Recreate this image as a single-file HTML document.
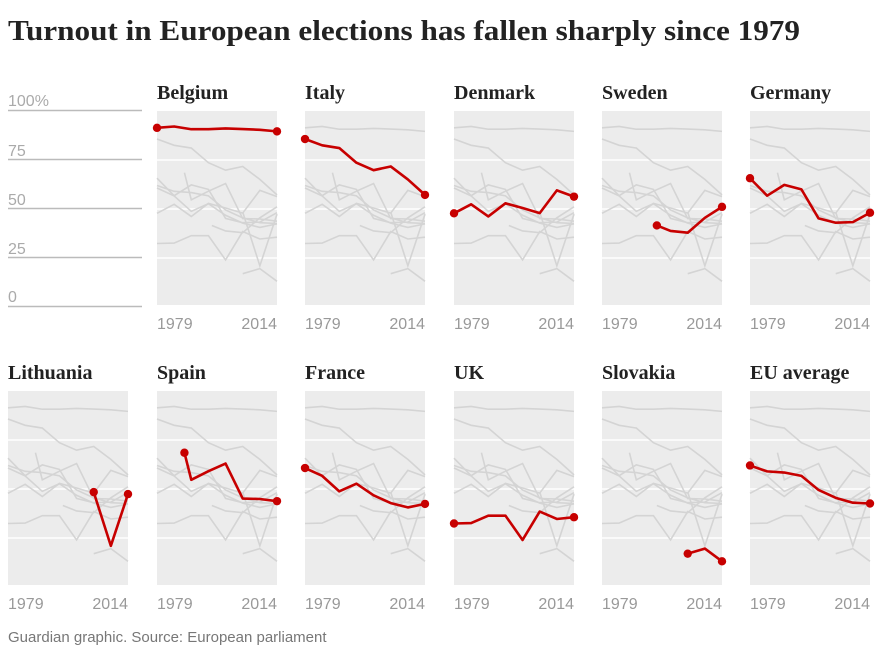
<!DOCTYPE html>
<html><head><meta charset="utf-8"><style>
body{margin:0;background:#fff;width:880px;height:652px;overflow:hidden}
svg{position:absolute;left:0;top:0}
.t{font-family:"Liberation Serif",serif;font-weight:bold;fill:#222}
.s{font-family:"Liberation Sans",sans-serif;fill:#999;font-size:16px}
</style></head><body>
<svg id="c" width="880" height="652" xmlns="http://www.w3.org/2000/svg">
<text x="8" y="40" class="t" font-size="29" textLength="792" lengthAdjust="spacingAndGlyphs">Turnout in European elections has fallen sharply since 1979</text>
<g class="s" style="fill:#aaa">
<text x="8" y="106">100%</text><text x="8" y="156">75</text><text x="8" y="205">50</text><text x="8" y="254">25</text><text x="8" y="302">0</text>
</g>
<g stroke="#bbb" stroke-width="1.5">
<line x1="8" x2="142" y1="110.5" y2="110.5"/><line x1="8" x2="142" y1="159.5" y2="159.5"/><line x1="8" x2="142" y1="208.5" y2="208.5"/><line x1="8" x2="142" y1="257.5" y2="257.5"/><line x1="8" x2="142" y1="306.5" y2="306.5"/>
</g>
<g class="t" font-size="20">
<text x="157" y="99">Belgium</text><text x="305" y="99">Italy</text><text x="454" y="99">Denmark</text><text x="602" y="99">Sweden</text><text x="750" y="99">Germany</text>
<text x="8" y="379">Lithuania</text><text x="157" y="379">Spain</text><text x="305" y="379">France</text><text x="454" y="379">UK</text><text x="602" y="379">Slovakia</text><text x="750" y="379">EU average</text>
</g>
<g class="s">
<text x="157" y="329">1979</text><text x="277" y="329" text-anchor="end">2014</text>
<text x="305" y="329">1979</text><text x="425" y="329" text-anchor="end">2014</text>
<text x="454" y="329">1979</text><text x="574" y="329" text-anchor="end">2014</text>
<text x="602" y="329">1979</text><text x="722" y="329" text-anchor="end">2014</text>
<text x="750" y="329">1979</text><text x="870" y="329" text-anchor="end">2014</text>
<text x="8" y="609">1979</text><text x="128" y="609" text-anchor="end">2014</text>
<text x="157" y="609">1979</text><text x="277" y="609" text-anchor="end">2014</text>
<text x="305" y="609">1979</text><text x="425" y="609" text-anchor="end">2014</text>
<text x="454" y="609">1979</text><text x="574" y="609" text-anchor="end">2014</text>
<text x="602" y="609">1979</text><text x="722" y="609" text-anchor="end">2014</text>
<text x="750" y="609">1979</text><text x="870" y="609" text-anchor="end">2014</text>
</g>
<text x="8" y="642" font-family="Liberation Sans,sans-serif" font-size="15" fill="#777">Guardian graphic. Source: European parliament</text>
</svg>
<script>
var D=[
[[1979,91.4],[1984,92.1],[1989,90.7],[1994,90.7],[1999,91.1],[2004,90.8],[2009,90.4],[2014,89.6]],
[[1979,85.7],[1984,82.5],[1989,81.1],[1994,73.6],[1999,69.8],[2004,71.7],[2009,65.1],[2014,57.2]],
[[1979,47.8],[1984,52.4],[1989,46.2],[1994,52.9],[1999,50.5],[2004,47.9],[2009,59.5],[2014,56.3]],
[[1995,41.6],[1999,38.8],[2004,37.9],[2009,45.5],[2014,51.1]],
[[1979,65.7],[1984,56.8],[1989,62.3],[1994,60.0],[1999,45.2],[2004,43.0],[2009,43.3],[2014,48.1]],
[[2004,48.4],[2009,21.0],[2014,47.4]],
[[1987,68.5],[1989,54.7],[1994,59.1],[1999,63.0],[2004,45.1],[2009,44.9],[2014,43.8]],
[[1979,60.7],[1984,56.7],[1989,48.8],[1994,52.7],[1999,46.8],[2004,42.8],[2009,40.6],[2014,42.4]],
[[1979,32.4],[1984,32.6],[1989,36.4],[1994,36.4],[1999,24.0],[2004,38.5],[2009,34.7],[2014,35.6]],
[[2004,17.0],[2009,19.6],[2014,13.1]],
[[1979,62.0],[1984,59.0],[1989,58.4],[1994,56.7],[1999,49.5],[2004,45.5],[2009,43.0],[2014,42.6]]];
var P=[[157,111],[305,111],[454,111],[602,111],[750,111],[8,391],[157,391],[305,391],[454,391],[602,391],[750,391]];
var s=document.getElementById('c'),NS="http://www.w3.org/2000/svg",h="";
function pts(d,x0,y0){return d.map(function(p){return [x0+(p[0]-1979)/35*120,y0+196-p[1]*1.96]});}
P.forEach(function(o,i){var x=o[0],y=o[1];
h+='<rect x="'+x+'" y="'+y+'" width="120" height="194" fill="#ececec"/>';
[75,50,25].forEach(function(v){var yy=y+196-v*1.96;h+='<line x1="'+x+'" x2="'+(x+120)+'" y1="'+yy+'" y2="'+yy+'" stroke="#fff" stroke-width="1.5"/>';});
D.forEach(function(d,j){if(j==i)return;h+='<polyline fill="none" stroke="#d4d4d4" stroke-width="1.6" points="'+pts(d,x,y).join(' ')+'"/>';});
var q=pts(D[i],x,y);h+='<polyline fill="none" stroke="#c70000" stroke-width="2.6" stroke-linejoin="round" points="'+q.join(' ')+'"/>';
h+='<circle cx="'+q[0][0]+'" cy="'+q[0][1]+'" r="4.2" fill="#c70000"/><circle cx="'+q[q.length-1][0]+'" cy="'+q[q.length-1][1]+'" r="4.2" fill="#c70000"/>';
});
var g=document.createElementNS(NS,'g');g.innerHTML=h;s.insertBefore(g,s.firstChild);
</script>
</body></html>
